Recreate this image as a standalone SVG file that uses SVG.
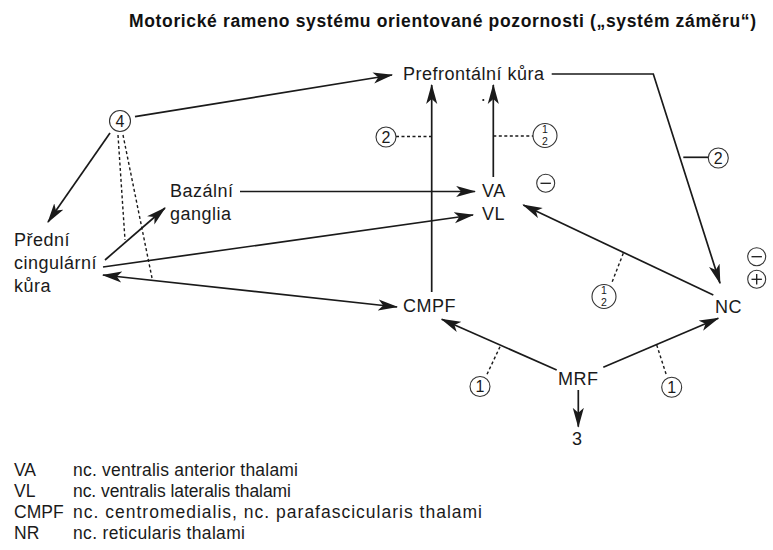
<svg xmlns="http://www.w3.org/2000/svg" width="773" height="550" viewBox="0 0 773 550">
<style>
.t{font-family:"Liberation Sans",Arial,sans-serif;font-size:18px;fill:#1a1a1a;letter-spacing:0.5px}
.title{font-family:"Liberation Sans",Arial,sans-serif;font-size:17.5px;font-weight:bold;fill:#111}
.lg{font-family:"Liberation Sans",Arial,sans-serif;font-size:17.5px;fill:#1a1a1a}
.c{font-family:"Liberation Sans",Arial,sans-serif;font-size:16px;fill:#1a1a1a;text-anchor:middle}
.f{font-family:"Liberation Sans",Arial,sans-serif;font-size:10.5px;fill:#1a1a1a;text-anchor:middle}
.ln{stroke:#1a1a1a;stroke-width:1.7;fill:none}
.ds{stroke:#1a1a1a;stroke-width:1.4;fill:none;stroke-dasharray:3,2.5}
.ci{stroke:#333;stroke-width:1.1;fill:#fff}
</style>
<defs>
<marker id="ah" markerUnits="userSpaceOnUse" markerWidth="20" markerHeight="12" refX="17" refY="5" orient="auto-start-reverse" viewBox="0 0 18 10">
<path d="M0,0 L18,5 L0,10 L4.5,5 z" fill="#1a1a1a"/>
</marker>
</defs>
<text class="title" x="129" y="27" textLength="627" lengthAdjust="spacing">Motorické rameno systému orientované pozornosti („systém záměru“)</text>

<g id="connectors">
<line class="ln" x1="135" y1="116.7" x2="392" y2="75" marker-end="url(#ah)"/>
<line class="ln" x1="110" y1="133" x2="48" y2="222" marker-end="url(#ah)"/>
<line class="ds" x1="118" y1="135" x2="125" y2="240"/>
<line class="ds" x1="123" y1="135" x2="152" y2="278"/>
<line class="ln" x1="105" y1="260" x2="165" y2="208" marker-end="url(#ah)"/>
<line class="ln" x1="103" y1="267" x2="473" y2="215" marker-end="url(#ah)"/>
<line class="ln" x1="103" y1="275" x2="397" y2="307" marker-start="url(#ah)" marker-end="url(#ah)"/>
<line class="ln" x1="240" y1="191.5" x2="475" y2="191.5" marker-end="url(#ah)"/>
<line class="ln" x1="431.7" y1="292" x2="431.7" y2="85" marker-end="url(#ah)"/>
<line class="ln" x1="493.3" y1="177" x2="493.3" y2="85" marker-end="url(#ah)"/>
<line class="ds" x1="396" y1="136.5" x2="431.7" y2="136.5"/>
<line class="ds" x1="493.3" y1="136" x2="533" y2="136"/>
<polyline class="ln" points="551.7,74 653.3,74 720,283.3" marker-end="url(#ah)"/>
<line class="ln" x1="683.3" y1="157.3" x2="708" y2="157.3"/>
<line class="ln" x1="713.3" y1="295" x2="523.3" y2="205" marker-end="url(#ah)"/>
<line class="ds" x1="623.3" y1="253.3" x2="611.7" y2="283"/>
<line class="ln" x1="556.7" y1="370" x2="441.7" y2="319.3" marker-end="url(#ah)"/>
<line class="ds" x1="500" y1="346.7" x2="486.7" y2="375"/>
<line class="ln" x1="603.3" y1="367.3" x2="718.3" y2="318.3" marker-end="url(#ah)"/>
<line class="ds" x1="656.7" y1="345" x2="666.7" y2="376"/>
<line class="ln" x1="578.3" y1="390" x2="578.3" y2="426.7" marker-end="url(#ah)"/>
<circle cx="483.3" cy="100" r="1.1" fill="#1a1a1a"/>
</g>

<g id="n4"><circle class="ci" cx="120" cy="121" r="10.5"/><text class="c" x="120" y="126.8">4</text></g>
<g id="prefrontal"><text class="t" x="403" y="80">Prefrontální kůra</text></g>
<g id="bazalni"><text class="t" x="170" y="197">Bazální</text><text class="t" x="170" y="220">ganglia</text></g>
<g id="predni"><text class="t" x="14" y="246">Přední</text><text class="t" x="14" y="269">cingulární</text><text class="t" x="14" y="292">kůra</text></g>
<g id="va"><text class="t" x="482" y="197">VA</text></g>
<g id="vl"><text class="t" x="482" y="220">VL</text></g>
<g id="cmpf"><text class="t" x="403" y="312">CMPF</text></g>
<g id="nc"><text class="t" x="715" y="313">NC</text></g>
<g id="mrf"><text class="t" x="558" y="385">MRF</text></g>
<g id="n3"><text class="t" x="572" y="445">3</text></g>

<g id="c2a"><circle class="ci" cx="386" cy="137" r="10"/><text class="c" x="386" y="142.8">2</text></g>
<g id="c12a"><circle class="ci" cx="545" cy="135.5" r="12"/><text class="f" x="545" y="133">1</text><text class="f" x="545" y="144.5">2</text></g>
<g id="cminus1"><circle class="ci" cx="545.7" cy="183.3" r="9"/><line x1="540.5" y1="183.3" x2="550.9" y2="183.3" stroke="#1a1a1a" stroke-width="1.3"/></g>
<g id="c2b"><circle class="ci" cx="718.3" cy="158" r="10"/><text class="c" x="718.3" y="163.8">2</text></g>
<g id="c12b"><circle class="ci" cx="604" cy="296.5" r="12"/><text class="f" x="604" y="294">1</text><text class="f" x="604" y="305.5">2</text></g>
<g id="cminus2"><circle class="ci" cx="756.7" cy="256.7" r="9"/><line x1="751.5" y1="256.7" x2="761.9" y2="256.7" stroke="#1a1a1a" stroke-width="1.3"/></g>
<g id="cplus"><circle class="ci" cx="756.7" cy="279.3" r="9"/><line x1="751.5" y1="279.3" x2="761.9" y2="279.3" stroke="#1a1a1a" stroke-width="1.3"/><line x1="756.7" y1="274.1" x2="756.7" y2="284.5" stroke="#1a1a1a" stroke-width="1.3"/></g>
<g id="c1a"><circle class="ci" cx="480" cy="386.5" r="10"/><text class="c" x="480" y="392.3">1</text></g>
<g id="c1b"><circle class="ci" cx="671.7" cy="387.3" r="10"/><text class="c" x="671.7" y="393.1">1</text></g>

<g id="legend">
<text class="lg" x="14" y="476">VA</text><text class="lg" x="73" y="476" textLength="225" lengthAdjust="spacing">nc. ventralis anterior thalami</text>
<text class="lg" x="14" y="497">VL</text><text class="lg" x="73" y="497" textLength="218" lengthAdjust="spacing">nc. ventralis lateralis thalami</text>
<text class="lg" x="14" y="518">CMPF</text><text class="lg" x="73" y="518" textLength="409" lengthAdjust="spacing">nc. centromedialis, nc. parafascicularis thalami</text>
<text class="lg" x="14" y="539">NR</text><text class="lg" x="73" y="539" textLength="172" lengthAdjust="spacing">nc. reticularis thalami</text>
</g>
</svg>
